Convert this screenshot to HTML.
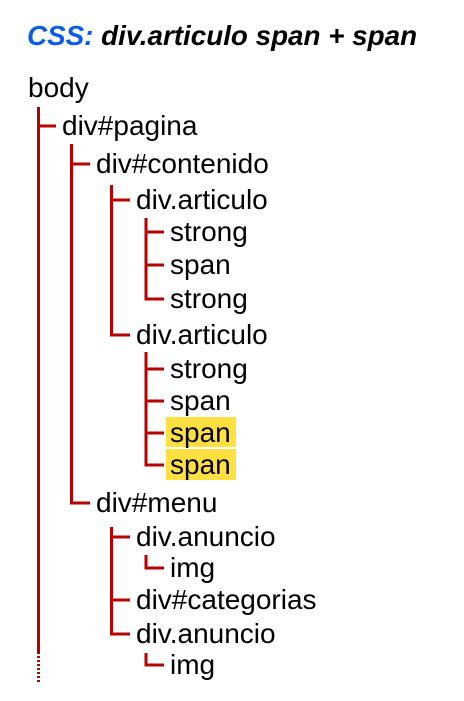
<!DOCTYPE html>
<html><head><style>
html,body{margin:0;padding:0;background:#fff;width:464px;height:701px;overflow:hidden}
svg{display:block}
text{font-family:"Liberation Sans",Arial,sans-serif;font-size:28px;fill:#000}
</style></head><body>
<svg width="464" height="701" viewBox="0 0 464 701">
<text x="27" y="45" style="font-size:27.8px;font-weight:bold;font-style:italic"><tspan fill="#0a5ce6">CSS:</tspan> div.articulo span + span</text>
<rect x="166" y="417" width="70" height="30" fill="#ffe040"/>
<rect x="166" y="449" width="70" height="31" fill="#ffe040"/>
<g stroke="#b80000" stroke-width="3" fill="none">
<line x1="38.5" y1="107" x2="38.5" y2="652"/>
<line x1="38.5" y1="652" x2="38.5" y2="683" stroke-dasharray="2,2"/>
<line x1="38" y1="126" x2="56" y2="126"/>
<path d="M71.5 144 V503 H90"/>
<line x1="71" y1="164" x2="90" y2="164"/>
<path d="M111.5 185 V335 H130"/>
<line x1="111" y1="200" x2="130" y2="200"/>
<path d="M111.5 527 V634 H130"/>
<line x1="111" y1="537" x2="130" y2="537"/>
<line x1="111" y1="600" x2="130" y2="600"/>
<path d="M146 218 V299 H164"/>
<line x1="146" y1="232" x2="164" y2="232"/>
<line x1="146" y1="265" x2="164" y2="265"/>
<path d="M146 352 V465 H164"/>
<line x1="146" y1="369" x2="164" y2="369"/>
<line x1="146" y1="401" x2="164" y2="401"/>
<line x1="146" y1="433" x2="164" y2="433"/>
<path d="M146 555 V568 H164"/>
<path d="M146 653 V665 H164"/>
</g>
<text x="28" y="97">body</text>
<text x="62" y="135">div#pagina</text>
<text x="96" y="173">div#contenido</text>
<text x="136" y="209">div.articulo</text>
<text x="170" y="241">strong</text>
<text x="170" y="274">span</text>
<text x="170" y="308">strong</text>
<text x="136" y="344">div.articulo</text>
<text x="170" y="378">strong</text>
<text x="170" y="410">span</text>
<text x="170" y="442">span</text>
<text x="170" y="474">span</text>
<text x="96" y="512">div#menu</text>
<text x="136" y="546">div.anuncio</text>
<text x="170" y="577">img</text>
<text x="136" y="609">div#categorias</text>
<text x="136" y="643">div.anuncio</text>
<text x="170" y="674">img</text>
</svg>
</body></html>
